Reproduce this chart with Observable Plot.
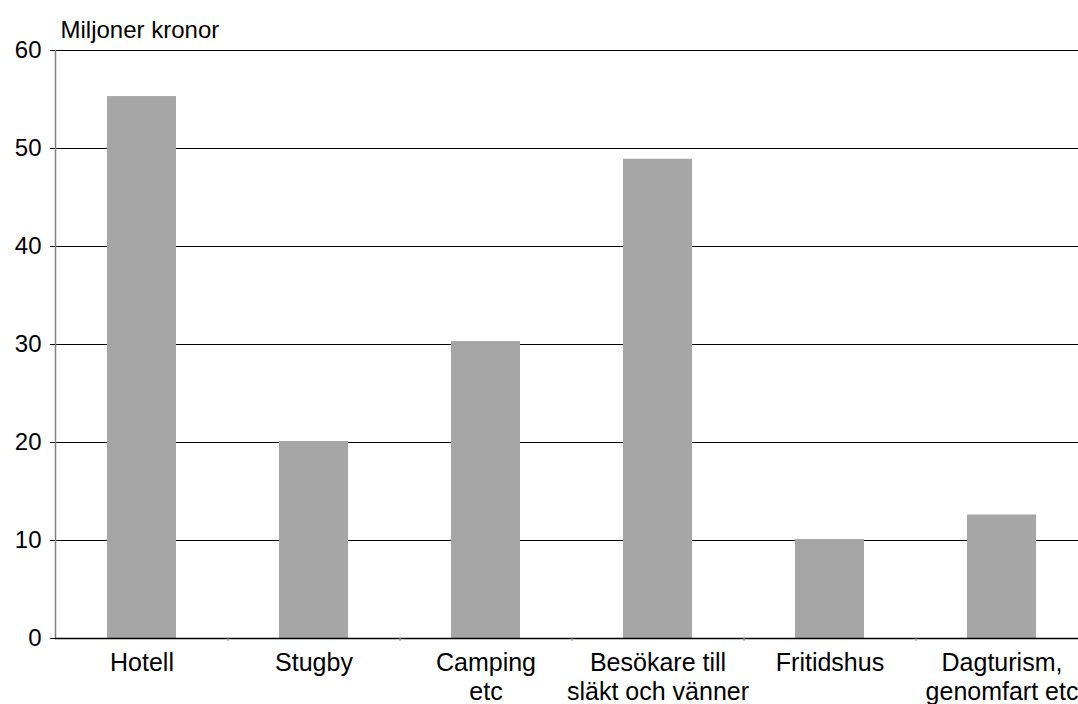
<!DOCTYPE html>
<html>
<head>
<meta charset="utf-8">
<script src="https://cdn.jsdelivr.net/npm/d3@7"></script>
<script src="https://cdn.jsdelivr.net/npm/@observablehq/plot@0.6"></script>
<style>
  html, body { margin: 0; padding: 0; background: #fff; }
  svg { display: block; }
</style>
</head>
<body>
<div id="chart"></div>
<script>
const categories = ["Hotell", "Stugby", "Camping\netc", "Besökare till\nsläkt och vänner", "Fritidshus", "Dagturism,\ngenomfart etc"];
const values = [55.3, 20.1, 30.3, 48.9, 10.1, 12.6];
const yTicks = [0, 10, 20, 30, 40, 50, 60];
const yLabel = "Miljoner kronor";

const data = categories.map((c, i) => ({category: c, value: values[i]}));
const font = "'Liberation Sans', Arial, Helvetica, sans-serif";

const chart = Plot.plot({
  width: 1078,
  height: 704,
  marginTop: 50,
  marginBottom: 66,
  marginLeft: 55,
  marginRight: 0,
  style: {fontFamily: font, fontSize: "24px", color: "#000", background: "#fff"},
  x: {domain: categories, range: [55, 1087], paddingInner: 0.6, paddingOuter: 0.3, label: null},
  y: {domain: [0, 60], label: null},
  marks: [
    Plot.ruleY(yTicks, {stroke: "#000", strokeWidth: 1.1}),
    Plot.frame({anchor: "left", stroke: "#808080", strokeWidth: 1.5}),
    Plot.barY(data, {x: "category", y: "value", fill: "#a6a6a6"}),
    Plot.ruleY([0], {stroke: "#000", strokeWidth: 1.3}),
    Plot.axisY({ticks: yTicks, tickSize: 5, tickPadding: 9, stroke: "#000", fontSize: 24, label: null}),
    Plot.axisX({tickSize: 0, tickPadding: 12, fontSize: 25, label: null, lineHeight: 1.15}),
    Plot.axisX({ticks: categories.slice(1), tickSize: 3, dx: -86, text: null, stroke: "#999", label: null}),
    Plot.text([yLabel], {frameAnchor: "top-left", dx: 5, dy: -13, textAnchor: "start", lineAnchor: "bottom", fontSize: 24})
  ]
});
document.getElementById("chart").appendChild(chart);
</script>
</body>
</html>
